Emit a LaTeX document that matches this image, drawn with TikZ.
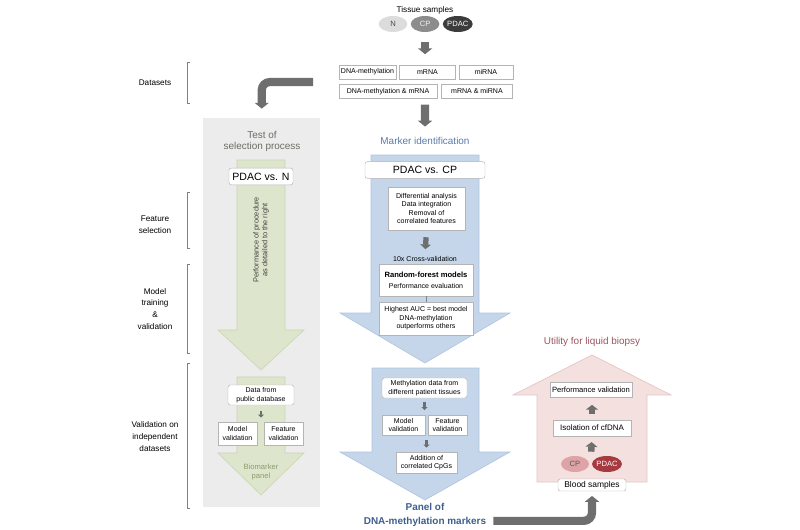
\documentclass[tikz,border=0pt]{standalone}
\usepackage{fontspec}
\setmainfont{Liberation Sans}
\usepackage{tikz}
\usetikzlibrary{arrows.meta,positioning,calc,shapes.geometric}
\definecolor{arrgray}{HTML}{6E6E6E}
\definecolor{boxedge}{HTML}{B4B4B4}
\definecolor{panelgray}{HTML}{ECECEC}
\definecolor{greenfill}{HTML}{DDE6CC}
\definecolor{greenedge}{HTML}{C9D5B0}
\definecolor{bluefill}{HTML}{C5D6EA}
\definecolor{blueedge}{HTML}{AEC3DD}
\definecolor{housefill}{HTML}{F4E0DF}
\definecolor{houseedge}{HTML}{E4C6C6}
\definecolor{bluetxt}{HTML}{5A7BA5}
\definecolor{paneltxt}{HTML}{3E5F8E}
\definecolor{greentxt}{HTML}{8D9C6E}
\definecolor{testtxt}{HTML}{6B6F63}
\definecolor{redtxt}{HTML}{9C5560}
\definecolor{ngray}{HTML}{DCDCDC}
\definecolor{cpgray}{HTML}{8C8C8C}
\definecolor{pdacgray}{HTML}{3C3C3C}
\definecolor{cpred}{HTML}{DDA3A6}
\definecolor{pdacred}{HTML}{A63A40}
\tikzset{
  box/.style={rectangle, draw=boxedge, line width=0.4pt, fill=white, align=center,
              font=\fontsize{6}{7.3}\selectfont, inner sep=0pt, minimum width=#1,
              minimum height=0.42cm},
  box/.default=1cm,
  rbox/.style={box=#1, rounded corners=2pt},
  rbig/.style={rbox=#1, font=\fontsize{9}{10}\selectfont, minimum height=0.5cm},
  sample/.style={ellipse, fill=#1, minimum width=0.86cm, minimum height=0.48cm,
                 inner sep=0pt, font=\fontsize{6.5}{7}\selectfont},
  lbl/.style={font=\fontsize{7}{10.2}\selectfont, align=center, inner sep=1pt},
  title/.style={font=\fontsize{8.5}{9.5}\selectfont, align=center, inner sep=1pt},
  brk/.style={draw=gray, line width=0.6pt},
  fatarr/.style={-{Triangle[width=12pt, length=5pt]}, line width=7pt, draw=arrgray},
  medarr/.style={-{Triangle[width=10pt, length=4pt]}, line width=5.5pt, draw=arrgray},
  smallarr/.style={-{Triangle[width=9pt, length=4pt]}, line width=4.5pt, draw=arrgray},
  tinyarr/.style={-{Triangle[width=5pt, length=2.5pt]}, line width=2.5pt, draw=arrgray},
}
\begin{document}
\begin{tikzpicture}[x=0.03cm, y=-0.03cm]
  \useasboundingbox (0,0) rectangle (800,530);

  % tissue samples and data sets
  \node[lbl] (tissue) at (425,10) {Tissue samples};
  \node[sample=ngray, text=black!70] (n) at (393,24) {N};
  \node[sample=cpgray, text=white!90!gray, right=2.5pt of n] (cp) {CP};
  \node[sample=pdacgray, text=white, right=2.5pt of cp] (pdac) {PDAC};

  \node[box=1.71cm] (dnam) at (367.5,72) {DNA-methylation};
  \node[box=1.68cm, right=0.09cm of dnam] (mrna) {mRNA};
  \node[box=1.62cm, right=0.09cm of mrna] (mirna) {miRNA};
  \node[box=2.94cm, anchor=north west] (dnamm) at ([yshift=-0.15cm]dnam.south west) {DNA-methylation \& mRNA};
  \node[box=2.13cm, right=0.12cm of dnamm] (mm) {mRNA \& miRNA};

  \draw[fatarr, shorten <=8pt, shorten >=9pt] (cp.south) -- (cp.south |- dnam.north);

  % row labels
  \node[lbl] (lds) at (155,83) {Datasets};
  \node[lbl] (lfs) at (155,225) {Feature\\selection};
  \node[lbl] (lmt) at (155,309) {Model\\training\\\&\\validation};
  \node[lbl] (lval) at (155,437) {Validation on\\independent\\datasets};
  \draw[brk] (190,62) -- (187,62) -- (187,103) -- (190,103);
  \draw[brk] (190,192) -- (187,192) -- (187,248) -- (190,248);
  \draw[brk] (190,264) -- (187,264) -- (187,353) -- (190,353);
  \draw[brk] (190,363) -- (187,363) -- (187,508) -- (190,508);

  % test of selection process
  \node[fill=panelgray, inner sep=0pt, minimum width=3.51cm, minimum height=11.67cm,
        anchor=north west] (testpanel) at (203,118) {};
  \coordinate (dsout) at (313,82);
  \draw[fatarr, rounded corners=7pt] (dsout) -| ([yshift=8pt]testpanel.north);
  \node[title, text=testtxt] (testtitle) at (262,141.5) {Test of\\selection process};
  \fill[greenfill, draw=greenedge, line width=0.5pt]
    (237,160) -- (285,160) -- (285,330) -- (304,330) -- (261,370) -- (218,330) -- (237,330) -- cycle;
  \fill[greenfill, draw=greenedge, line width=0.5pt]
    (237,377) -- (285,377) -- (285,453) -- (304,453) -- (261,495) -- (218,453) -- (237,453) -- cycle;
  \node[rbig=1.92cm] (pdacn) at (261,176.5) {PDAC vs. N};
  \node[font=\fontsize{6.3}{7.5}\selectfont, rotate=90, align=center, text=black!75] (perfnote)
    at (261,240) {Performance of procedure\\as detailed to the right};
  \node[rbox=1.98cm, minimum height=0.6cm] (pubdata) at (261,395) {Data from\\public database};
  \node[box=1.17cm, minimum height=0.69cm] (mval1) at (237.5,433.5) {Model\\validation};
  \node[box=1.17cm, minimum height=0.69cm] (fval1) at (283.5,433.5) {Feature\\validation};
  \draw[tinyarr, shorten <=5pt, shorten >=3.5pt] (pubdata.south) -- (pubdata.south |- mval1.north);
  \node[font=\fontsize{6.5}{7.7}\selectfont, text=greentxt, align=center] (biomark)
    at (261,472) {Biomarker\\panel};

  % marker identification
  \node[title, text=bluetxt] (marker) at (425,141) {Marker identification};
  \draw[fatarr, shorten <=5pt, shorten >=8pt] (cp.south |- dnamm.south) -- (marker.north);
  \fill[bluefill, draw=blueedge, line width=0.5pt]
    (371,155) -- (479,155) -- (479,313) -- (510,313) -- (425,363) -- (340,313) -- (371,313) -- cycle;
  \fill[bluefill, draw=blueedge, line width=0.5pt]
    (372,368) -- (479,368) -- (479,452) -- (510,452) -- (425,500) -- (340,452) -- (372,452) -- cycle;
  \node[rbig=3.6cm] (pdaccp) at (425,170) {PDAC vs. CP};
  \node[box=2.31cm, minimum height=1.29cm] (diffan) at (426.5,208.5)
    {Differential analysis\\Data integration\\Removal of\\correlated features};
  \node[font=\fontsize{6}{7}\selectfont, inner sep=1pt] (crossval) at (425,259) {10x Cross-validation};
  \draw[smallarr, shorten <=6pt, shorten >=5pt] (diffan.south) -- (crossval.north);
  \node[box=2.82cm, minimum height=0.96cm] (rf) at (426,280)
    {{\bfseries\fontsize{6.5}{8}\selectfont Random-forest models}\\[2pt]Performance evaluation};
  \node[box=2.82cm, minimum height=0.99cm] (auc) at (426,318.5)
    {Highest AUC = best model\\DNA-methylation\\outperforms others};
  \draw[draw=gray, line width=0.5pt] (rf.south) -- (auc.north);

  \node[rbox=2.55cm, minimum height=0.6cm] (methdata) at (424.5,388)
    {Methylation data from\\different patient tissues};
  \node[box=1.29cm, minimum height=0.6cm] (mval2) at (403.5,425) {Model\\validation};
  \node[box=1.17cm, minimum height=0.6cm] (fval2) at (447.5,425) {Feature\\validation};
  \node[box=1.83cm, minimum height=0.63cm] (cpgs) at (426.5,462.5) {Addition of\\correlated CpGs};
  \draw[tinyarr, shorten <=3.5pt, shorten >=4pt] (methdata.south) -- (methdata.south |- mval2.north);
  \draw[tinyarr, shorten <=4pt, shorten >=3.5pt] (cpgs.north |- mval2.south) -- (cpgs.north);
  \node[font=\bfseries\fontsize{8.5}{12}\selectfont, text=paneltxt, align=center, inner sep=1pt]
    (paneltext) at (425,515) {Panel of\\DNA-methylation markers};

  % utility for liquid biopsy
  \node[title, text=redtxt] (utility) at (592,342) {Utility for liquid biopsy};
  \fill[housefill, draw=houseedge, line width=0.6pt]
    (537,482) -- (537,395) -- (513,395) -- (592,355) -- (671,395) -- (647,395) -- (647,482) -- cycle;
  \node[box=2.46cm, minimum height=0.45cm, font=\fontsize{6.5}{8}\selectfont] (perfval)
    at (591,389.5) {Performance validation};
  \node[box=2.34cm, minimum height=0.48cm, font=\fontsize{6.8}{8}\selectfont] (isol)
    at (592,428) {Isolation of cfDNA};
  \node[sample=cpred, text=black!65, minimum width=0.84cm] (cpb) at (575,464) {CP};
  \node[sample=pdacred, text=white, minimum width=0.84cm] (pdacb) at (607,464) {PDAC};
  \node[rbox=2.04cm, minimum height=0.36cm, font=\fontsize{7.2}{8}\selectfont] (blood)
    at (592,485) {Blood samples};
  \draw[medarr, shorten <=5pt, shorten >=6.5pt] (isol.north) -- (isol.north |- perfval.south);
  \draw[medarr, shorten <=3.5pt, shorten >=5pt] ($(cpb.north)!0.5!(pdacb.north)$) -- (isol.south);
  \draw[fatarr, rounded corners=7pt] ([xshift=5pt, yshift=-5pt]paneltext.east) -| ([yshift=-4pt]blood.south);
\end{tikzpicture}
\end{document}
